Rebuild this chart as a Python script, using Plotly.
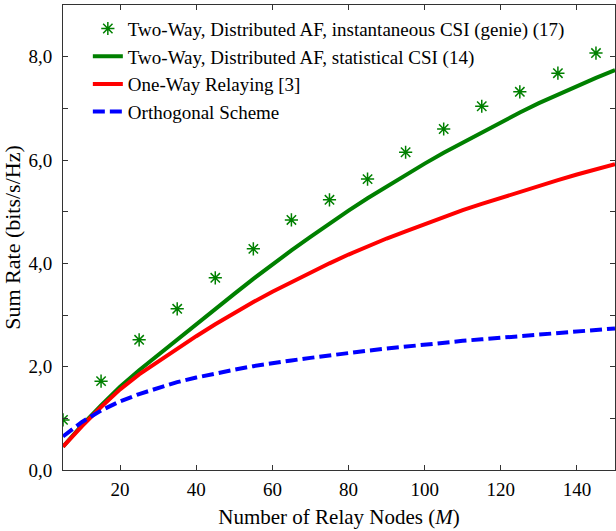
import plotly.graph_objects as go

# Relay nodes M
m_line = [5, 10, 15, 20, 25, 30, 35, 40, 45, 50, 55, 60, 65, 70, 75, 80, 85, 90,
          95, 100, 105, 110, 115, 120, 125, 130, 135, 140, 145, 150]
m_star = [5, 15, 25, 35, 45, 55, 65, 75, 85, 95, 105, 115, 125, 135, 145]

# Two-Way, instantaneous CSI (genie) (17)
genie = [0.97, 1.72, 2.52, 3.12, 3.72, 4.28, 4.84, 5.23, 5.63, 6.15, 6.60, 7.04,
         7.32, 7.68, 8.07]
# Two-Way, statistical CSI (14)
statistical = [0.45, 0.87, 1.25, 1.61, 1.93, 2.23, 2.52, 2.81, 3.11, 3.41, 3.70,
               3.98, 4.25, 4.51, 4.77, 5.02, 5.26, 5.49, 5.71, 5.93, 6.14, 6.34,
               6.54, 6.73, 6.92, 7.10, 7.27, 7.43, 7.59, 7.74]
# One-Way Relaying [3]
one_way = [0.45, 0.85, 1.22, 1.56, 1.85, 2.10, 2.35, 2.59, 2.82, 3.04, 3.25, 3.45,
           3.64, 3.82, 4.00, 4.17, 4.33, 4.48, 4.62, 4.76, 4.90, 5.03, 5.15, 5.27,
           5.39, 5.50, 5.61, 5.72, 5.82, 5.92]
# Orthogonal Scheme
orthogonal = [0.65, 0.93, 1.15, 1.33, 1.47, 1.59, 1.70, 1.79, 1.87, 1.94, 2.01,
              2.07, 2.12, 2.17, 2.22, 2.27, 2.31, 2.35, 2.39, 2.43, 2.46, 2.50,
              2.53, 2.56, 2.59, 2.62, 2.65, 2.68, 2.71, 2.74]

x_ticks = [20, 40, 60, 80, 100, 120, 140]
y_ticks = [0, 2, 4, 6, 8]
y_ticktext = ["0,0", "2,0", "4,0", "6,0", "8,0"]

FONT = "Liberation Serif"

fig = go.Figure()
fig.add_trace(go.Scatter(
    x=m_star, y=genie, mode="markers",
    name="Two-Way, Distributed AF, instantaneous CSI (genie) (17)",
    marker=dict(symbol="asterisk-open", size=11, color="#008000",
                line=dict(color="#008000", width=1.5))))
fig.add_trace(go.Scatter(
    x=m_line, y=statistical, mode="lines",
    name="Two-Way, Distributed AF, statistical CSI (14)",
    line=dict(color="#008000", width=4)))
fig.add_trace(go.Scatter(
    x=m_line, y=one_way, mode="lines", name="One-Way Relaying [3]",
    line=dict(color="#FF0000", width=4)))
fig.add_trace(go.Scatter(
    x=m_line, y=orthogonal, mode="lines", name="Orthogonal Scheme",
    line=dict(color="#0000FF", width=4, dash="12px,5px")))

axis_common = dict(
    showline=True, linecolor="#333333", linewidth=1, mirror="ticks",
    ticks="inside", ticklen=5, tickcolor="#333333", showgrid=False,
    zeroline=False, automargin=False,
    tickfont=dict(family=FONT, size=19, color="black"),
)

fig.update_xaxes(
    range=[5, 150], tickvals=x_ticks, ticklabelstandoff=2,
    title=dict(text="Number of Relay Nodes (<i>M</i>)",
               font=dict(family=FONT, size=21, color="black"), standoff=10),
    **axis_common)
fig.update_yaxes(
    range=[0, 9], tickvals=y_ticks, ticktext=y_ticktext, ticklabelstandoff=6,
    minor=dict(tickvals=[1, 3, 5, 7], ticks="inside", ticklen=5,
               tickcolor="#333333"),
    title=dict(text="Sum Rate (bits/s/Hz)",
               font=dict(family=FONT, size=22, color="black"), standoff=4),
    **axis_common)

fig.update_layout(
    width=616, height=531,
    margin=dict(l=63, r=1, t=5, b=61),
    paper_bgcolor="white", plot_bgcolor="white",
    font=dict(family=FONT, size=19, color="black"),
    showlegend=True,
    legend=dict(x=0.045, y=0.99, xanchor="left", yanchor="top",
                bgcolor="rgba(255,255,255,0)", borderwidth=0,
                font=dict(family=FONT, size=19, color="black"),
                tracegroupgap=0),
)

fig.write_html("out.html",
               config={"displayModeBar": False},
               post_script="document.body.style.margin='0px';")
